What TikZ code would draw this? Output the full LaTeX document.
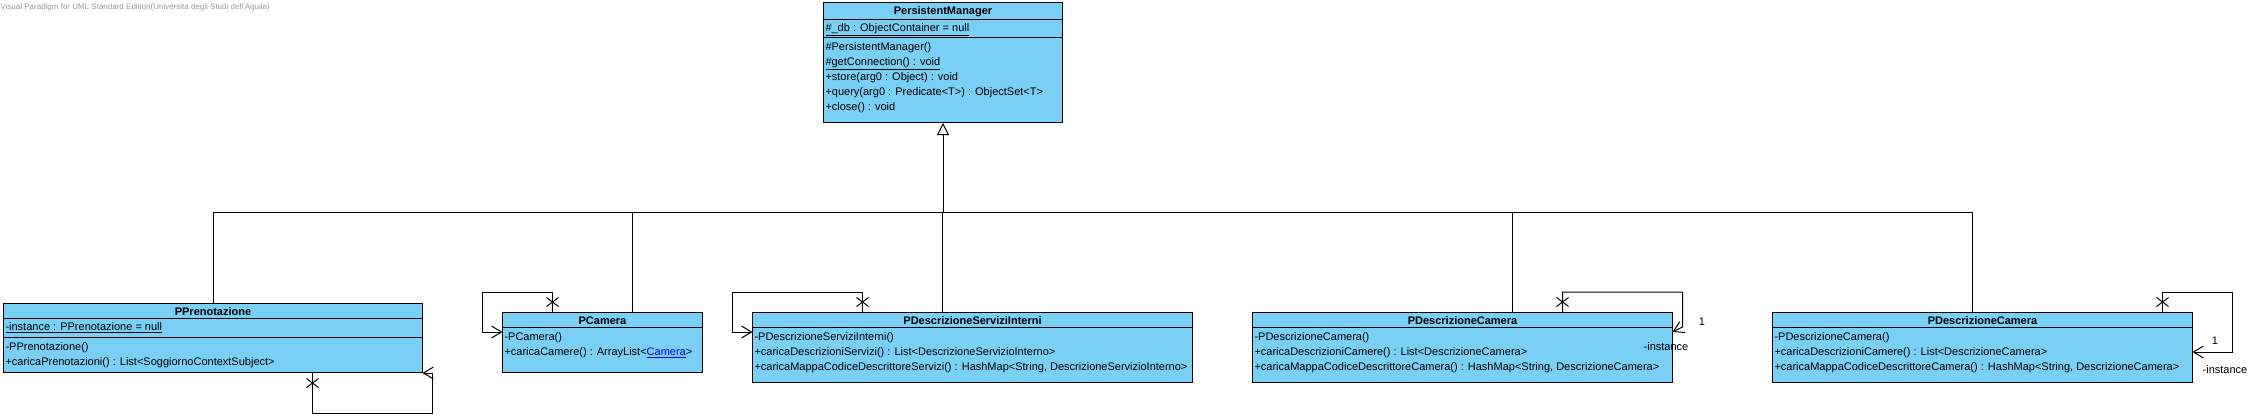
\documentclass[tikz,border=0pt]{standalone}
\usepackage{fontspec}
\setmainfont{Liberation Sans}
\usetikzlibrary{arrows.meta,positioning}
\definecolor{classblue}{RGB}{122,207,245}
\definecolor{linkblue}{RGB}{0,0,238}

\begin{document}
\begin{tikzpicture}[x=1pt, y=-1pt, line width=1pt,
  font=\fontsize{11}{15}\selectfont,
  classbox/.style={draw, fill=classblue, anchor=north west, inner sep=0pt},
  classname/.style={anchor=base, inner sep=0pt, font=\fontsize{11}{15}\selectfont\bfseries},
  members/.style={anchor=base west, inner sep=0pt, align=left},
  gen/.style={-{Triangle[open, length=12pt, width=12pt, fill=white]}},
  selfassoc/.style={-{Straight Barb[length=10pt, width=12pt]}},
  rolelabel/.style={inner sep=0pt, font=\fontsize{11}{12}\selectfont}]

\useasboundingbox (0,0) rectangle (2261,416);

% Watermark
\node[anchor=west, inner sep=0pt, text=gray!80, font=\fontsize{8}{9}\selectfont] (vp) at (0,7)
  {Visual Paradigm for UML Standard Edition(Universita degli Studi dell'Aquila)};

% PersistentManager (members nodes sit on the baseline of their last line)
\node[classbox, minimum width=239pt, minimum height=120pt] (pm) at (823,2) {};
\draw ([yshift=-17pt]pm.north west) -- ([yshift=-17pt]pm.north east);
\draw ([yshift=-35pt]pm.north west) -- ([yshift=-35pt]pm.north east);
\node[classname] (pmname) at ([yshift=-12pt]pm.north) {PersistentManager};
\node[members] (pmattr) at ([xshift=2pt,yshift=-29.5pt]pm.north west) {\underline{\#\_db : ObjectContainer = null}};
\node[members] (pmops) at ([xshift=2pt,yshift=-108.5pt]pm.north west)
  {\#PersistentManager()\\
   \underline{\#getConnection() : void}\\
   +store(arg0 : Object) : void\\
   +query(arg0 : Predicate<T>) : ObjectSet<T>\\
   +close() : void};

% PPrenotazione
\node[classbox, minimum width=419pt, minimum height=69pt] (pp) at (3,303) {};
\draw ([yshift=-15pt]pp.north west) -- ([yshift=-15pt]pp.north east);
\draw ([yshift=-34pt]pp.north west) -- ([yshift=-34pt]pp.north east);
\node[classname] (ppname) at ([yshift=-12pt]pp.north) {PPrenotazione};
\node[members] (ppattr) at ([xshift=2pt,yshift=-27.5pt]pp.north west) {\underline{-instance : PPrenotazione = null}};
\node[members] (ppops) at ([xshift=2pt,yshift=-62.5pt]pp.north west)
  {-PPrenotazione()\\
   +caricaPrenotazioni() : List<SoggiornoContextSubject>};

% PCamera
\node[classbox, minimum width=200pt, minimum height=60pt] (pc) at (502,312) {};
\draw ([yshift=-15pt]pc.north west) -- ([yshift=-15pt]pc.north east);
\node[classname] (pcname) at ([yshift=-12pt]pc.north) {PCamera};
\node[members] (pcops) at ([xshift=2pt,yshift=-43.5pt]pc.north west)
  {-PCamera()\\
   +caricaCamere() : ArrayList<\textcolor{linkblue}{\underline{Camera}}>};

% PDescrizioneServiziInterni
\node[classbox, minimum width=440pt, minimum height=70pt] (pdsi) at (752,312) {};
\draw ([yshift=-15pt]pdsi.north west) -- ([yshift=-15pt]pdsi.north east);
\node[classname] (pdsiname) at ([yshift=-12pt]pdsi.north) {PDescrizioneServiziInterni};
\node[members] (pdsiops) at ([xshift=2pt,yshift=-58.5pt]pdsi.north west)
  {-PDescrizioneServiziInterni()\\
   +caricaDescrizioniServizi() : List<DescrizioneServizioInterno>\\
   +caricaMappaCodiceDescrittoreServizi() : HashMap<String, DescrizioneServizioInterno>};

% PDescrizioneCamera
\node[classbox, minimum width=420pt, minimum height=70pt] (pdc) at (1252,312) {};
\draw ([yshift=-15pt]pdc.north west) -- ([yshift=-15pt]pdc.north east);
\node[classname] (pdcname) at ([yshift=-12pt]pdc.north) {PDescrizioneCamera};
\node[members] (pdcops) at ([xshift=2pt,yshift=-58.5pt]pdc.north west)
  {-PDescrizioneCamera()\\
   +caricaDescrizioniCamere() : List<DescrizioneCamera>\\
   +caricaMappaCodiceDescrittoreCamera() : HashMap<String, DescrizioneCamera>};

% PDescrizioneCamera (second)
\node[classbox, minimum width=420pt, minimum height=70pt] (pdcb) at (1772,312) {};
\draw ([yshift=-15pt]pdcb.north west) -- ([yshift=-15pt]pdcb.north east);
\node[classname] (pdcbname) at ([yshift=-12pt]pdcb.north) {PDescrizioneCamera};
\node[members] (pdcbops) at ([xshift=2pt,yshift=-58.5pt]pdcb.north west)
  {-PDescrizioneCamera()\\
   +caricaDescrizioniCamere() : List<DescrizioneCamera>\\
   +caricaMappaCodiceDescrittoreCamera() : HashMap<String, DescrizioneCamera>};

% Generalization tree
\coordinate (hub) at (943,212);
\draw[gen] (hub) -- (pm.south);
\draw (pp.north) |- (hub);
\draw ([xshift=30pt]pc.north) |- (hub);
\draw ([xshift=-30pt]pdsi.north) |- (hub);
\draw ([xshift=50pt]pdc.north) |- (hub);
\draw ([xshift=-10pt]pdcb.north) |- (hub);

% Self associations
\draw[selfassoc] ([xshift=99.5pt]pp.south) coordinate (ppx) -- ++(0,40) -- ++(120,0) -- ++(0,-40) -- ++(-10,0);
\draw ([yshift=-10pt]ppx) +(-6,-4.5) -- +(6,4.5) +(-6,4.5) -- +(6,-4.5);

\draw[selfassoc] ([xshift=-50pt]pc.north) coordinate (pcx) -- ++(0,-20) -| ++(-70,40) -- ++(20,0);
\draw ([yshift=10pt]pcx) +(-6,-4.5) -- +(6,4.5) +(-6,4.5) -- +(6,-4.5);

\draw[selfassoc] ([xshift=-110pt]pdsi.north) coordinate (pdsix) -- ++(0,-20) -| ++(-130,40) -- ++(20,0);
\draw ([yshift=10pt]pdsix) +(-6,-4.5) -- +(6,4.5) +(-6,4.5) -- +(6,-4.5);

\draw[selfassoc] ([xshift=100pt]pdc.north) coordinate (pdcx) -- ++(0,-20) -| ++(120,35) -- ++(-10,5);
\draw ([yshift=10pt]pdcx) +(-6,-4.5) -- +(6,4.5) +(-6,4.5) -- +(6,-4.5);
\node[rolelabel] (pdcmult) at (1702,322) {1};
\node[rolelabel] (pdcrole) at (1666,347) {-instance};

\draw[selfassoc] ([xshift=180pt]pdcb.north) coordinate (pdcbx) -- ++(0,-20) -| ++(70,60) -- ++(-40,0);
\draw ([yshift=10pt]pdcbx) +(-6,-4.5) -- +(6,4.5) +(-6,4.5) -- +(6,-4.5);
\node[rolelabel] (pdcbmult) at (2215,341) {1};
\node[rolelabel] (pdcbrole) at (2225,370) {-instance};

\end{tikzpicture}
\end{document}
